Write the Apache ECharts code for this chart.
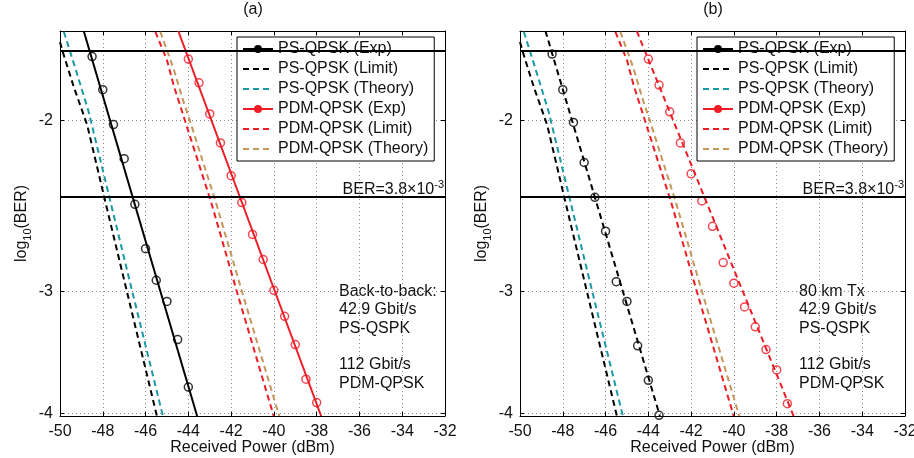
<!DOCTYPE html>
<html><head><meta charset="utf-8">
<script src="https://cdn.jsdelivr.net/npm/echarts@6/dist/echarts.min.js"></script>
<style>html,body{margin:0;padding:0;background:#fff}#c{width:914px;height:458px}</style>
</head><body><div id="c"></div>
<script>
// ---------------- data (log10(BER) vs received power in dBm) ----------------
const xTickMin = -50, xTickMax = -32, xTickStep = 2;
const yTickLabels = [-2, -3, -4];
const yLimits = [-1.619, -4.026];
const berThresholds = [0.02, 0.0038];

// (a) back-to-back
const aPsExpPower = [-48.5, -48, -47.5, -47, -46.5, -46, -45.5, -45, -44.5, -44];
const aPsExpLogBer = [-1.72, -1.86, -2.02, -2.19, -2.44, -2.71, -2.92, -3.07, -3.36, -3.76];
const aPsFitPower = [-48.89, -43.59];
const aPsFitLogBer = [-1.619, -4.026];
const aPdmExpPower = [-44, -43.5, -43, -42.5, -42, -41.5, -41, -40.5, -40, -39.5, -39, -38.5, -38];
const aPdmExpLogBer = [-1.73, -1.83, -1.97, -2.11, -2.28, -2.43, -2.62, -2.78, -2.99, -3.18, -3.40, -3.69, -3.90];
const aPdmFitPower = [-44.47, -37.79];
const aPdmFitLogBer = [-1.619, -4.026];

// (b) 80 km transmission
const bPsExpPower = [-48.5, -48, -47.5, -47, -46.5, -46, -45.5, -45, -44.5, -44, -43.5];
const bPsExpLogBer = [-1.71, -1.86, -2.01, -2.21, -2.40, -2.60, -2.93, -3.07, -3.41, -3.70, -4.02];
const bPsFitPower = [-48.81, -43.46];
const bPsFitLogBer = [-1.619, -4.026];
const bPdmExpPower = [-44, -43.5, -43, -42.5, -42, -41.5, -41, -40.5, -40, -39.5, -39, -38.5, -38, -37.5];
const bPdmExpLogBer = [-1.73, -1.84, -1.96, -2.11, -2.27, -2.42, -2.57, -2.80, -2.94, -3.11, -3.26, -3.44, -3.61, -3.91];
const bPdmFitPower = [-44.54, -37.21];
const bPdmFitLogBer = [-1.619, -4.026];

// limit / theory curves (same in both panels)
const psLimitPower = [-50.0, -49.87, -49.36, -48.73, -47.88, -46.87, -45.47];
const psLimitLogBer = [-1.662, -1.701, -1.847, -2.022, -2.425, -3.000, -4.026];
const psTheoryPower = [-49.82, -49.28, -48.66, -47.64, -46.62, -45.19];
const psTheoryLogBer = [-1.622, -1.769, -1.960, -2.425, -3.000, -4.026];
const pdmLimitPower = [-45.54, -45.00, -44.69, -44.14, -42.94, -41.73, -40.01];
const pdmLimitLogBer = [-1.622, -1.734, -1.840, -2.007, -2.425, -3.000, -4.026];
const pdmTheoryPower = [-45.31, -44.69, -44.30, -43.91, -42.72, -41.49, -39.75];
const pdmTheoryLogBer = [-1.622, -1.769, -1.892, -2.007, -2.425, -3.000, -4.026];

const seriesNames = ['PS-QPSK (Exp)', 'PS-QPSK (Limit)', 'PS-QPSK (Theory)', 'PDM-QPSK (Exp)', 'PDM-QPSK (Limit)', 'PDM-QPSK (Theory)'];
const panelTitles = ['(a)', '(b)'];
const panelNotes = ['Back-to-back:\n42.9 Gbit/s\nPS-QSPK\n\n112 Gbit/s\nPDM-QPSK', '80 km Tx\n42.9 Gbit/s\nPS-QSPK\n\n112 Gbit/s\nPDM-QPSK'];

// ---------------- chart ----------------
const FONT = "'Liberation Sans', Arial, Helvetica, sans-serif";
const BLACK = '#000000', TEAL = '#1a9aa6', RED = '#ee1c25', TAN = '#c4975a';
const tr = L => Math.log10(-L);               // log10(-log10(BER)) scale
const pts = (xs, ls) => xs.map((x, i) => [x, tr(ls[i])]);
const yTickVals = yTickLabels.map(tr);
const tMin = tr(yLimits[0]), tMax = tr(yLimits[1]);
const DASH = [6, 4];

const grids = [
  {left: 60, top: 31, width: 385, height: 385, outerBoundsMode: 'none', containLabel: false},
  {left: 520, top: 31, width: 385, height: 385, outerBoundsMode: 'none', containLabel: false}
];

const xAxes = [], yAxes = [];
grids.forEach((g, gi) => {
  const baseX = {
    gridIndex: gi, type: 'value', min: xTickMin, max: xTickMax, interval: xTickStep,
    axisLine: {show: true, onZero: false, lineStyle: {color: BLACK, width: 1}},
    axisTick: {show: true, inside: true, length: 4, lineStyle: {color: BLACK}},
  };
  xAxes.push(Object.assign({}, baseX, {
    position: 'bottom',
    axisLabel: {fontSize: 16, color: '#111', margin: 8, fontFamily: FONT, showMinLabel: true, showMaxLabel: true},
    splitLine: {show: true, lineStyle: {type: [1, 3], color: '#8a8a8a', width: 1}},
    name: 'Received Power (dBm)', nameLocation: 'middle', nameGap: 24, nameMoveOverlap: false,
    nameTextStyle: {fontSize: 16, color: '#111', fontFamily: FONT, lineHeight: 16}
  }));
  xAxes.push(Object.assign({}, baseX, {position: 'top', axisLabel: {show: false}, splitLine: {show: false}}));
  const baseY = {
    gridIndex: gi, type: 'value', inverse: true, min: tMin, max: tMax,
    axisLine: {show: true, onZero: false, lineStyle: {color: BLACK, width: 1}},
    axisTick: {show: true, inside: true, length: 4, customValues: yTickVals, lineStyle: {color: BLACK}},
  };
  yAxes.push(Object.assign({}, baseY, {
    position: 'left',
    axisLabel: {customValues: yTickVals, fontSize: 16, color: '#111', margin: 7, fontFamily: FONT,
      formatter: v => { const i = yTickVals.findIndex(t => Math.abs(t - v) < 1e-6); return i >= 0 ? String(yTickLabels[i]) : ''; }},
    splitLine: {show: true, lineStyle: {type: [1, 3], color: '#8a8a8a', width: 1}},
    name: 'log{sub|10}(BER)', nameLocation: 'middle', nameGap: 38, nameRotate: 90, nameMoveOverlap: false,
    nameTextStyle: {fontSize: 16, color: '#111', fontFamily: FONT, lineHeight: 22, verticalAlign: 'middle',
      rich: {sub: {fontSize: 11, fontFamily: FONT, color: '#111', verticalAlign: 'bottom', lineHeight: 12}}}
  }));
  yAxes.push(Object.assign({}, baseY, {position: 'right', axisLabel: {show: false}, splitLine: {show: false}}));
});

function lineSeries(name, gi, xs, ls, color, dashed, withSymbolIcon) {
  return {
    name, type: 'line', xAxisIndex: gi * 2, yAxisIndex: gi * 2, data: pts(xs, ls),
    color, symbol: withSymbolIcon ? 'circle' : 'none', showSymbol: false, clip: true,
    lineStyle: {color, width: 2, type: dashed ? DASH : 'solid'}, z: 3, silent: true
  };
}
function markerSeries(name, gi, xs, ls, color) {
  return {
    name, type: 'scatter', xAxisIndex: gi * 2, yAxisIndex: gi * 2, data: pts(xs, ls),
    symbol: 'circle', symbolSize: 8, clip: false, silent: true,
    itemStyle: {color: 'rgba(0,0,0,0)', borderColor: color, borderWidth: 1.5}, z: 2
  };
}
const thresholdLine = gi => ({
  name: 'thr' + gi, type: 'line', xAxisIndex: gi * 2, yAxisIndex: gi * 2, data: [], silent: true,
  markLine: {silent: true, symbol: ['none', 'none'], label: {show: false}, animation: false,
    lineStyle: {color: BLACK, width: 2, type: 'solid'},
    data: berThresholds.map(b => ({yAxis: tr(Math.log10(b))}))}
});

const series = [
  // panel (a)
  lineSeries(seriesNames[0], 0, aPsFitPower, aPsFitLogBer, BLACK, false, true),
  lineSeries(seriesNames[1], 0, psLimitPower, psLimitLogBer, BLACK, true, false),
  lineSeries(seriesNames[2], 0, psTheoryPower, psTheoryLogBer, TEAL, true, false),
  lineSeries(seriesNames[3], 0, aPdmFitPower, aPdmFitLogBer, RED, false, true),
  lineSeries(seriesNames[4], 0, pdmLimitPower, pdmLimitLogBer, RED, true, false),
  lineSeries(seriesNames[5], 0, pdmTheoryPower, pdmTheoryLogBer, TAN, true, false),
  markerSeries('a PS markers', 0, aPsExpPower, aPsExpLogBer, BLACK),
  markerSeries('a PDM markers', 0, aPdmExpPower, aPdmExpLogBer, RED),
  thresholdLine(0),
  // panel (b)
  lineSeries(seriesNames[0], 1, bPsFitPower, bPsFitLogBer, BLACK, true, true),
  lineSeries(seriesNames[1], 1, psLimitPower, psLimitLogBer, BLACK, true, false),
  lineSeries(seriesNames[2], 1, psTheoryPower, psTheoryLogBer, TEAL, true, false),
  lineSeries(seriesNames[3], 1, bPdmFitPower, bPdmFitLogBer, RED, true, true),
  lineSeries(seriesNames[4], 1, pdmLimitPower, pdmLimitLogBer, RED, true, false),
  lineSeries(seriesNames[5], 1, pdmTheoryPower, pdmTheoryLogBer, TAN, true, false),
  markerSeries('b PS markers', 1, bPsExpPower, bPsExpLogBer, BLACK),
  markerSeries('b PDM markers', 1, bPdmExpPower, bPdmExpLogBer, RED),
  thresholdLine(1)
];

const legendData = seriesNames.map(n => n.indexOf('Exp') >= 0 ? {name: n} : {name: n, itemStyle: {opacity: 0}});
const legends = grids.map(g => ({
  orient: 'vertical', left: g.left + 177, top: 37, itemWidth: 30, itemHeight: 10, itemGap: 4,
  padding: [4, 6, 4, 5], backgroundColor: '#fff', borderColor: BLACK, borderWidth: 1, borderRadius: 0,
  selectedMode: false, data: legendData,
  textStyle: {fontSize: 16, color: '#111', fontFamily: FONT, lineHeight: 16, padding: [0, 0, 0, 0]}
}));

const graphics = [];
grids.forEach((g, gi) => {
  graphics.push({type: 'text', x: g.left + 193, y: 10, silent: true,
    style: {text: panelTitles[gi], font: '16px ' + FONT, fill: '#111', textAlign: 'center', textVerticalAlign: 'middle', align: 'center', verticalAlign: 'middle'}});
  graphics.push({type: 'text', x: g.left + g.width - 1, y: 190, silent: true,
    style: {text: 'BER=3.8×10{sup|-3}', font: '16px ' + FONT, fill: '#111', textAlign: 'right', textVerticalAlign: 'middle', align: 'right', verticalAlign: 'middle',
      lineHeight: 22, rich: {sup: {fontSize: 11, fontFamily: FONT, fill: '#111', verticalAlign: 'top', lineHeight: 12}}}});
  graphics.push({type: 'text', x: g.left + 279, y: 282.5, silent: true,
    style: {text: panelNotes[gi], font: '16px ' + FONT, fill: '#111', textAlign: 'left', textVerticalAlign: 'top', align: 'left', verticalAlign: 'top', lineHeight: 18.3}});
});

const chart = echarts.init(document.getElementById('c'), null, {renderer: 'canvas'});
chart.setOption({
  animation: false,
  backgroundColor: '#fff',
  grid: grids,
  xAxis: xAxes,
  yAxis: yAxes,
  legend: legends,
  series,
  graphic: graphics
});
</script></body></html>
